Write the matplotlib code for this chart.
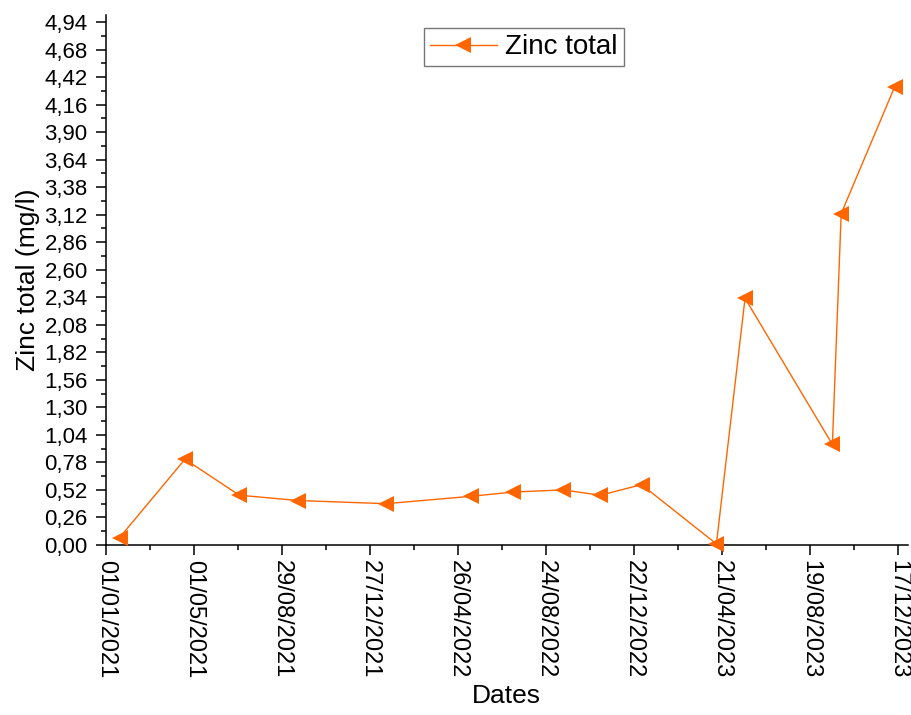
import numpy as np
import pandas as pd
import matplotlib
matplotlib.use('Agg')
import matplotlib.pyplot as plt
import matplotlib.dates as mdates
from matplotlib.ticker import FixedLocator, FuncFormatter

plt.rcParams['font.family'] = ['Liberation Sans', 'DejaVu Sans']

# Sampling dates and total zinc concentration (mg/l)
dates = ['2021-01-20', '2021-04-19', '2021-07-02', '2021-09-20', '2022-01-18',
         '2022-05-14', '2022-07-10', '2022-09-16', '2022-11-06', '2023-01-01',
         '2023-04-13', '2023-05-22', '2023-09-18', '2023-09-30', '2023-12-12']
zinc = [0.07, 0.81, 0.47, 0.42, 0.39,
        0.46, 0.50, 0.52, 0.47, 0.57,
        0.01, 2.33, 0.95, 3.13, 4.33]

dates = pd.to_datetime(dates)
x = mdates.date2num(dates)

# axis ticks: every 120 days from 01/01/2021, every 0.26 mg/l
start = pd.Timestamp('2021-01-01')
major_x = [start + pd.Timedelta(days=120 * k) for k in range(10)]
minor_x = [start + pd.Timedelta(days=60 + 120 * k) for k in range(9)]
major_y = np.arange(0, 20) * 0.26
minor_y = np.arange(0, 19) * 0.26 + 0.13

orange = '#FF6600'

fig = plt.figure(figsize=(9.12, 7.15), dpi=100)
ax = fig.add_axes([0.1159, 0.2378, 0.8797, 0.7412])

ax.plot(x, zinc, color=orange, lw=1.0, marker='<', markersize=11.5,
        markeredgewidth=0, label='Zinc total', clip_on=False, zorder=3)

ax.set_xlim(mdates.date2num(start), mdates.date2num(start + pd.Timedelta(days=1093)))
ax.set_ylim(0, 5.006)

ax.xaxis.set_major_locator(FixedLocator(mdates.date2num(major_x)))
ax.xaxis.set_minor_locator(FixedLocator(mdates.date2num(minor_x)))
ax.xaxis.set_major_formatter(mdates.DateFormatter('%d/%m/%Y'))
ax.yaxis.set_major_locator(FixedLocator(major_y))
ax.yaxis.set_minor_locator(FixedLocator(minor_y))
ax.yaxis.set_major_formatter(FuncFormatter(lambda v, p: f'{v:.2f}'.replace('.', ',')))

for lab in ax.get_xticklabels():
    lab.set_rotation(270)
    lab.set_va('top')
    lab.set_ha('center')

ax.tick_params(axis='both', which='major', direction='out', length=7, width=1.1)
ax.tick_params(axis='both', which='minor', direction='out', length=3.5, width=1.1)
ax.tick_params(axis='x', labelsize=17, pad=4)
ax.tick_params(axis='y', labelsize=16, pad=6)

ax.spines['top'].set_visible(False)
ax.spines['right'].set_visible(False)
ax.spines['left'].set_linewidth(1.1)
ax.spines['bottom'].set_linewidth(1.1)

ax.set_xlabel('Dates', fontsize=19, labelpad=4)
ax.set_ylabel('Zinc total (mg/l)', fontsize=19, labelpad=3)

leg = ax.legend(loc='upper center', bbox_to_anchor=(0.521, 0.975), fontsize=20,
                frameon=True, fancybox=False, borderaxespad=0, handlelength=2.4,
                handletextpad=0.3, borderpad=0.22, markerscale=1.0)
leg.get_frame().set_edgecolor('#555555')
leg.get_frame().set_linewidth(1.0)

fig.savefig('out.png', dpi=100)
